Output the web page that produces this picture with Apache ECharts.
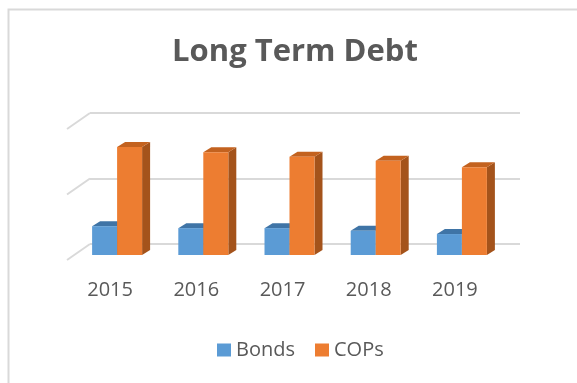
<!DOCTYPE html>
<html><head><meta charset="utf-8">
<script src="https://cdn.jsdelivr.net/npm/echarts@6/dist/echarts.min.js"></script>
<style>html,body{margin:0;padding:0;background:#fff}#c{width:577px;height:383px}</style>
</head><body><div id="c"></div>
<script>
const years = ['2015','2016','2017','2018','2019'];
const bonds = [44, 41, 41, 37, 32];
const cops  = [165, 157, 150, 144, 134];
const valueTicks = [0, 100, 200];

const FONT = '"Open Sans", sans-serif';
const TXT = '#595959';
const DX = 8, DY = -5;

function bar3d(offset, front, top, side) {
  return function (params, api) {
    const idx = api.value(0), v = api.value(1);
    const b = api.coord([idx, 0]), t = api.coord([idx, v]);
    const band = api.size([1, 0])[0];
    const w = band * 0.29;
    const x0 = b[0] + offset * w;
    const yt = t[1], yb = b[1];
    return {
      type: 'group',
      children: [
        {type: 'polygon', shape: {points: [[x0 + w, yt], [x0 + w + DX, yt + DY], [x0 + w + DX, yb + DY], [x0 + w, yb]]}, style: {fill: side}},
        {type: 'polygon', shape: {points: [[x0, yt], [x0 + w, yt], [x0 + w + DX, yt + DY], [x0 + DX, yt + DY]]}, style: {fill: top}},
        {type: 'rect', shape: {x: x0, y: yt, width: w, height: yb - yt}, style: {fill: front}}
      ]
    };
  };
}

const chart = echarts.init(document.getElementById('c'), null, {renderer: 'canvas'});
chart.setOption({
  animation: false,
  backgroundColor: '#fff',
  title: {
    text: 'Long Term Debt', left: 290, top: 32, textAlign: 'center',
    textStyle: {fontFamily: FONT, fontSize: 31, fontWeight: 'bold', color: TXT}
  },
  legend: {
    bottom: 18, left: 212, icon: 'rect', itemWidth: 14, itemHeight: 13, itemGap: 20,
    textStyle: {fontFamily: FONT, fontSize: 20, color: TXT},
    data: ['Bonds', 'COPs']
  },
  graphic: [{
    type: 'rect', left: 6, top: 7, shape: {width: 700, height: 500},
    style: {fill: 'none', stroke: '#d9d9d9', lineWidth: 2}, silent: true, z: 100
  }],
  grid: [
    {left: 74, right: 72, top: 124, bottom: 128},
    {left: 90, right: 57, top: 113, bottom: 139},
    {left: 67, right: 79, top: 129, bottom: 123}
  ],
  xAxis: [
    {type: 'category', gridIndex: 0, data: years, show: false},
    {type: 'category', gridIndex: 1, data: years, show: false},
    {type: 'category', gridIndex: 2, data: years, axisLine: {show: false}, axisTick: {show: false},
     axisLabel: {fontFamily: FONT, fontSize: 20, color: TXT, margin: 20}}
  ],
  yAxis: [
    {type: 'value', gridIndex: 0, min: 0, max: 200, interval: 100, show: false},
    {type: 'value', gridIndex: 1, min: 0, max: 200, interval: 100,
     axisLine: {show: false}, axisTick: {show: false}, axisLabel: {show: false},
     splitLine: {lineStyle: {color: '#d9d9d9', width: 2}}},
    {type: 'value', gridIndex: 2, min: 0, max: 200, show: false}
  ],
  series: [
    {
      type: 'custom', name: 'diag', xAxisIndex: 1, yAxisIndex: 1, silent: true,
      data: valueTicks.map(v => [0, v]),
      renderItem: function (params, api) {
        const p = api.coord([0, api.value(1)]);
        const band = api.size([1, 0])[0];
        const x = p[0] - band / 2;
        return {type: 'line', shape: {x1: x, y1: p[1], x2: x - 23, y2: p[1] + 16},
                style: {stroke: '#d9d9d9', lineWidth: 2}};
      }
    },
    {
      type: 'custom', name: 'Bonds', xAxisIndex: 0, yAxisIndex: 0,
      itemStyle: {color: '#5B9BD5'},
      data: bonds.map((v, i) => [i, v]),
      renderItem: bar3d(-1, '#5B9BD5', '#3F74A6', '#35628C')
    },
    {
      type: 'custom', name: 'COPs', xAxisIndex: 0, yAxisIndex: 0,
      itemStyle: {color: '#ED7D31'},
      data: cops.map((v, i) => [i, v]),
      renderItem: bar3d(0, '#ED7D31', '#C3621F', '#A4531B')
    }
  ]
});
</script>
</body></html>
